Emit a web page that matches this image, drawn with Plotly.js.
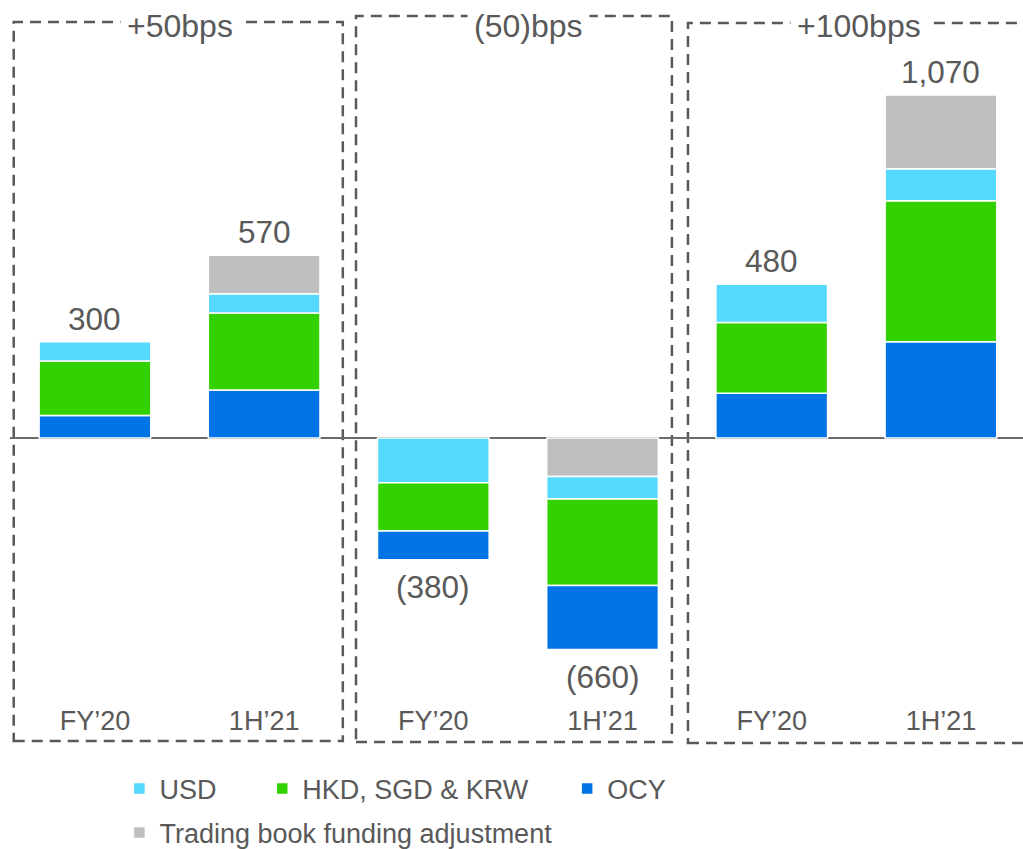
<!DOCTYPE html>
<html>
<head>
<meta charset="utf-8">
<script src="https://cdn.plot.ly/plotly-3.0.1.min.js"></script>
<style>html,body{margin:0;padding:0;background:#fff;}#chart{width:1023px;height:849px;}</style>
</head>
<body>
<div id="chart"></div>
<script>
// ---- data ----
var scenarios = ["+50bps", "+50bps", "(50)bps", "(50)bps", "+100bps", "+100bps"];
var periods   = ["FY\u201920", "1H\u201921", "FY\u201920", "1H\u201921", "FY\u201920", "1H\u201921"];
var usd       = [60, 60, -140, -70, 120, 100];
var hkdSgdKrw = [170, 240, -150, -270, 220, 440];
var ocy       = [70, 150, -90, -200, 140, 300];
var trading   = [0, 120, 0, -120, 0, 230];
var groupTitles = ["+50bps", "(50)bps", "+100bps"];

// ---- styling ----
var textColor = "#595959";
var fontFam = "Liberation Sans, Arial, sans-serif";
var series = [
  {name: "USD", values: usd, color: "#55D9FF", legend: "legend"},
  {name: "HKD, SGD & KRW", values: hkdSgdKrw, color: "#33D100", legend: "legend2"},
  {name: "OCY", values: ocy, color: "#0073E6", legend: "legend3"},
  {name: "Trading book funding adjustment", values: trading, color: "#BFBFBF", legend: "legend4"}
];
var keys = scenarios.map(function (s, i) { return s + " " + periods[i]; });

// positive stack order from zero: OCY, HKD, USD, Trading
// negative stack order from zero: Trading, USD, HKD, OCY
var posOrder = [2, 1, 0, 3];
var negOrder = [3, 0, 1, 2];
var traces = [];
function makeTrace(si, sign, showLegend) {
  var s = series[si];
  return {
    type: "bar",
    name: s.name,
    x: keys,
    y: s.values.map(function (v) { return (sign > 0 ? v > 0 : v < 0) ? v : null; }),
    marker: {color: s.color, line: {color: "#ffffff", width: 1.5}},
    legendgroup: s.name,
    legend: s.legend,
    showlegend: showLegend,
    hoverinfo: "name+y"
  };
}
negOrder.forEach(function (si) { traces.push(makeTrace(si, -1, false)); });
posOrder.forEach(function (si) { traces.push(makeTrace(si, 1, true)); });

var totals = keys.map(function (k, i) {
  return usd[i] + hkdSgdKrw[i] + ocy[i] + trading[i];
});
function fmt(v) {
  var s = Math.abs(v).toLocaleString("en-US");
  return v < 0 ? "(" + s + ")" : s;
}

var annotations = totals.map(function (t, i) {
  return {
    x: keys[i], y: t, xref: "x", yref: "y",
    text: fmt(t), showarrow: false,
    yanchor: t >= 0 ? "bottom" : "top",
    yshift: t >= 0 ? 3 : -7,
    font: {family: fontFam, size: 31.5, color: textColor}
  };
});

// dashed group boxes
var boxes = [
  {x0: -0.48, x1: 1.465, top: 0.9827, bottom: -0.0564, tx: 0.5},
  {x0: 1.543, x1: 3.41, top: 0.9913, bottom: -0.0578, tx: 2.565},
  {x0: 3.505, x1: 5.7, top: 0.9813, bottom: -0.0593, tx: 4.515}
];
var shapes = boxes.map(function (b) {
  return {
    type: "rect", xref: "x", yref: "paper",
    x0: b.x0, x1: b.x1, y0: b.bottom, y1: b.top,
    line: {color: textColor, width: 2.5, dash: "11px,7px"},
    fillcolor: "rgba(0,0,0,0)", layer: "below"
  };
});
boxes.forEach(function (b, gi) {
  annotations.push({
    x: b.tx, y: 0.977, xref: "x", yref: "paper",
    text: groupTitles[gi], showarrow: false, yanchor: "middle",
    bgcolor: "#ffffff", borderpad: 6,
    font: {family: fontFam, size: 32, color: textColor}
  });
});

function legendAt(x, y) {
  return {
    orientation: "h", x: x, y: y, xanchor: "left", yanchor: "middle",
    xref: "paper", yref: "paper",
    bgcolor: "rgba(0,0,0,0)", borderwidth: 0,
    font: {family: fontFam, size: 27, color: textColor},
    itemclick: false, itemdoubleclick: false
  };
}

var layout = {
  width: 1023, height: 849,
  margin: {l: 10, r: 0, t: 10, b: 147, autoexpand: false},
  paper_bgcolor: "#ffffff", plot_bgcolor: "#ffffff",
  barmode: "relative",
  bargap: 0.34,
  showlegend: true,
  font: {family: fontFam, color: textColor},
  xaxis: {
    type: "category",
    range: [-0.502, 5.485],
    tickmode: "array", tickvals: keys, ticktext: periods,
    tickfont: {family: fontFam, size: 27, color: textColor},
    showgrid: false, showline: false, ticks: "", zeroline: false,
    fixedrange: true
  },
  yaxis: {
    range: [-823.7, 1335.4],
    showgrid: false, showticklabels: false, ticks: "",
    zeroline: true, zerolinecolor: "#6b6b6b", zerolinewidth: 2,
    showline: false, fixedrange: true
  },
  legend:  legendAt(0.108, -0.1257),
  legend2: legendAt(0.249, -0.1257),
  legend3: legendAt(0.550, -0.1257),
  legend4: legendAt(0.108, -0.1893),
  annotations: annotations,
  shapes: shapes
};

Plotly.newPlot("chart", traces, layout, {displayModeBar: false, staticPlot: false});
</script>
</body>
</html>
